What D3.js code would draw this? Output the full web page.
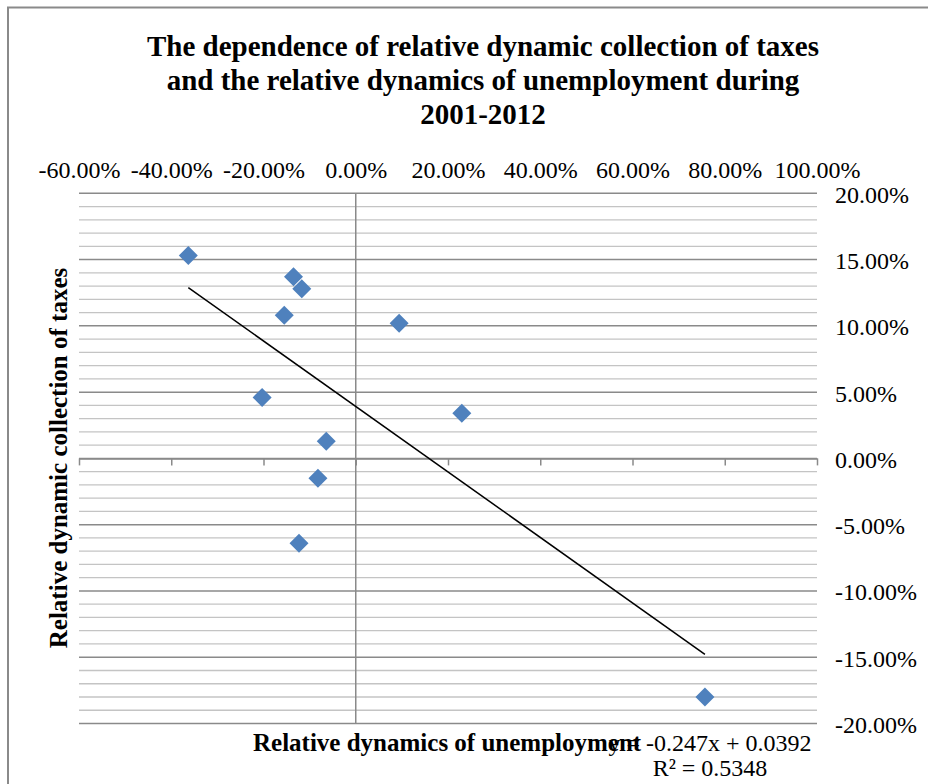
<!DOCTYPE html>
<html>
<head>
<meta charset="utf-8">
<script src="https://cdn.jsdelivr.net/npm/d3@7"></script>
<style>
  html, body { margin: 0; padding: 0; background: #fff; }
  svg { display: block; font-family: "Liberation Serif", "Times New Roman", serif; }
</style>
</head>
<body>
<svg id="chart" width="928" height="784"></svg>
<script>
// Relative change of unemployment (x) and of tax collection (y), year over year
const unemploymentChange = [-0.363, -0.135, -0.117, -0.155, 0.094, -0.203, 0.230, -0.064, -0.082, -0.123, 0.757];
const taxCollectionChange = [0.153, 0.137, 0.128, 0.108, 0.102, 0.046, 0.034, 0.013, -0.015, -0.064, -0.180];

// Linear trend reported for the series
const trendSlope = -0.247;
const trendIntercept = 0.0392;
const trendR2 = 0.5348;

const xTickValues = [-0.6, -0.4, -0.2, 0, 0.2, 0.4, 0.6, 0.8, 1.0];
const yTickValues = [-0.2, -0.15, -0.1, -0.05, 0, 0.05, 0.1, 0.15, 0.2];
const yMinorValues = d3.range(-20, 21).map(v => v / 100);

const titleLines = [
  "The dependence of relative dynamic collection of taxes",
  "and the relative dynamics of unemployment during",
  "2001-2012"
];
const xTitle = "Relative dynamics of unemployment";
const yTitle = "Relative dynamic collection of taxes";

const svg = d3.select("#chart");
// Percent labels with a plain hyphen for the sign
const pctFmt = d3.format(".2%");
const pct = d => pctFmt(d).replace("\u2212", "-");

const plot = { left: 79, right: 817, top: 193.3, bottom: 723.5 };
const x = d3.scaleLinear().domain([-0.6, 1.0]).range([plot.left, plot.right]);
const y = d3.scaleLinear().domain([-0.2, 0.2]).range([plot.bottom, plot.top]);

// Outer chart frame
svg.append("rect")
  .attr("x", 8).attr("y", 7.5)
  .attr("width", 940).attr("height", 800)
  .attr("fill", "none").attr("stroke", "#8a8a8a").attr("stroke-width", 2);

// Title
svg.append("g").selectAll("text").data(titleLines).join("text")
  .attr("x", 483).attr("y", (d, i) => 56 + i * 34)
  .attr("text-anchor", "middle")
  .attr("font-size", 29).attr("font-weight", "bold").attr("fill", "#000")
  .text(d => d);

// Minor and major horizontal gridlines
svg.append("g").selectAll("line").data(yMinorValues.filter(v => Math.round(v * 100) % 5 !== 0)).join("line")
  .attr("x1", plot.left).attr("x2", plot.right)
  .attr("y1", d => y(d)).attr("y2", d => y(d))
  .attr("stroke", "#c4c4c4").attr("stroke-width", 1.3);

svg.append("g").selectAll("line").data(yTickValues).join("line")
  .attr("x1", plot.left).attr("x2", plot.right)
  .attr("y1", d => y(d)).attr("y2", d => y(d))
  .attr("stroke", "#8a8a8a").attr("stroke-width", 1.5);

// Vertical axis through x = 0
svg.append("line")
  .attr("x1", x(0)).attr("x2", x(0))
  .attr("y1", y(0.2)).attr("y2", y(-0.2))
  .attr("stroke", "#8a8a8a").attr("stroke-width", 1.5);

// Horizontal axis through y = 0 with tick marks pointing down
const xAxisLine = svg.append("g").attr("transform", `translate(0,${y(0)})`)
  .call(d3.axisBottom(x).tickValues(xTickValues).tickSize(7).tickSizeOuter(0).tickFormat(""));
xAxisLine.select(".domain").attr("stroke", "#8a8a8a").attr("stroke-width", 1.5);
xAxisLine.selectAll(".tick line").attr("stroke", "#8a8a8a").attr("stroke-width", 1.5);

// X tick labels shown along the top
const xLabels = svg.append("g").attr("transform", "translate(0,178)")
  .call(d3.axisTop(x).tickValues(xTickValues).tickSize(0).tickPadding(0).tickFormat(pct));
xLabels.select(".domain").remove();
xLabels.selectAll("text").attr("font-size", 24).attr("font-family", "Liberation Serif").attr("fill", "#000");

// Y tick labels on the right
const yLabels = svg.append("g").attr("transform", `translate(${plot.right},0)`)
  .call(d3.axisRight(y).tickValues(yTickValues).tickSize(0).tickPadding(18).tickFormat(pct));
yLabels.select(".domain").remove();
yLabels.selectAll("text").attr("font-size", 24).attr("font-family", "Liberation Serif")
  .attr("fill", "#000").attr("dy", "0.37em");

// Trend line across the observed x range
const xExtent = d3.extent(unemploymentChange);
svg.append("line")
  .attr("x1", x(xExtent[0])).attr("y1", y(trendSlope * xExtent[0] + trendIntercept))
  .attr("x2", x(xExtent[1])).attr("y2", y(trendSlope * xExtent[1] + trendIntercept))
  .attr("stroke", "#000").attr("stroke-width", 1.5);

// Observations as diamonds
const points = unemploymentChange.map((u, i) => ({ u, t: taxCollectionChange[i] }));
svg.append("g").selectAll("path").data(points).join("path")
  .attr("transform", d => `translate(${x(d.u)},${y(d.t)})`)
  .attr("d", "M0,-9.5L9.5,0L0,9.5L-9.5,0Z")
  .attr("fill", "#4f81bd");

// Axis titles
svg.append("text")
  .attr("x", 253).attr("y", 751)
  .attr("font-size", 25).attr("font-weight", "bold").attr("fill", "#000")
  .text(xTitle);

svg.append("text")
  .attr("transform", "translate(67,458) rotate(-90)")
  .attr("text-anchor", "middle")
  .attr("font-size", 25).attr("font-weight", "bold").attr("fill", "#000")
  .text(yTitle);

// Trend equation and fit, centred under the right half of the plot
const eqText = `y = ${trendSlope}x + ${trendIntercept}`;
const r2Text = `R² = ${trendR2}`;
svg.append("g").selectAll("text").data([eqText, r2Text]).join("text")
  .attr("x", 710).attr("y", (d, i) => 751 + i * 25)
  .attr("text-anchor", "middle")
  .attr("font-size", 24).attr("fill", "#000")
  .text(d => d);
</script>
</body>
</html>
